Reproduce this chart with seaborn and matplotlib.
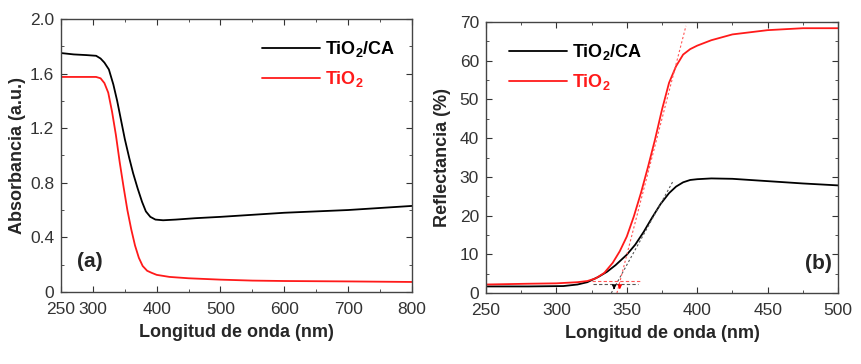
import pandas as pd
import matplotlib.pyplot as plt
from matplotlib import font_manager
from matplotlib.ticker import AutoMinorLocator, MultipleLocator
import seaborn as sns

# (a) absorbance spectra
abs_wl_ca = [250, 270, 290, 305, 312, 318, 325, 332, 338, 344, 350, 357, 363, 370, 377,
             383, 390, 398, 410, 430, 460, 500, 550, 600, 650, 700, 750, 800]
abs_ca = [1.75, 1.74, 1.735, 1.73, 1.71, 1.68, 1.63, 1.52, 1.40, 1.26, 1.12, 0.98, 0.87, 0.76,
          0.66, 0.59, 0.55, 0.53, 0.525, 0.53, 0.54, 0.55, 0.565, 0.58, 0.59, 0.60, 0.615, 0.63]
abs_wl_ti = [250, 280, 305, 312, 318, 324, 330, 336, 342, 348, 354, 360, 366, 372, 378,
             385, 392, 400, 420, 450, 500, 550, 600, 700, 800]
abs_ti = [1.575, 1.575, 1.575, 1.565, 1.53, 1.46, 1.32, 1.15, 0.95, 0.77, 0.60, 0.46, 0.34,
          0.25, 0.19, 0.155, 0.14, 0.125, 0.11, 0.10, 0.09, 0.083, 0.08, 0.077, 0.073]
abs_yticks = [0, 0.4, 0.8, 1.2, 1.6, 2.0]
abs_ylabels = ["0", "0.4", "0.8", "1.2", "1.6", "2.0"]
abs_xticks = [250, 300, 400, 500, 600, 700, 800]

# (b) reflectance spectra
ref_wl_ca = [250, 280, 305, 315, 322, 330, 336, 342, 350, 356, 362, 368, 374, 380, 385,
             390, 395, 400, 410, 425, 450, 475, 500]
ref_ca = [1.7, 1.7, 1.8, 2.2, 2.8, 4.2, 5.5, 7.2, 9.9, 12.5, 15.8, 19.5, 23.0, 25.8, 27.5,
          28.6, 29.2, 29.4, 29.6, 29.5, 28.9, 28.3, 27.8]
ref_wl_ti = [250, 280, 300, 315, 322, 328, 334, 340, 345, 350, 355, 360, 365, 370, 375,
             380, 385, 390, 395, 400, 410, 425, 450, 475, 500]
ref_ti = [2.2, 2.4, 2.5, 2.8, 3.1, 3.8, 5.2, 7.8, 10.8, 14.6, 19.8, 25.8, 32.5, 39.6, 47.4,
          54.3, 58.6, 61.6, 63.0, 63.9, 65.3, 66.8, 67.9, 68.4, 68.4]

# band-edge construction lines (b)
tan_ca_x = [339, 383]
tan_ca_y = [0, 29]
tan_ti_x = [343, 392]
tan_ti_y = [0, 69]
base_ca_x = [326, 358]
base_ca_y = [2.3, 2.3]
base_ti_x = [325, 361]
base_ti_y = [3.0, 3.0]
edge_ca = 341
edge_ti = 345

# narrow font if there is one
fam = "Liberation Sans"
for f in ["Liberation Sans Narrow", "Arial Narrow"]:
    try:
        font_manager.findfont(f, fallback_to_default=False)
        fam = f
        break
    except ValueError:
        pass
narrow = fam != "Liberation Sans"
tsize = 15 if narrow else 12.5

sns.set_style("ticks")
plt.rcParams['font.family'] = [fam, 'DejaVu Sans']
plt.rcParams['mathtext.fontset'] = 'custom'
plt.rcParams['mathtext.rm'] = fam
plt.rcParams['mathtext.bf'] = fam + ':bold'

fig = plt.figure(figsize=(8.62, 3.64), dpi=100)
ax1 = fig.add_axes([0.0708, 0.198, 0.407, 0.75])
ax2 = fig.add_axes([0.5638, 0.195, 0.4084, 0.7445])

lab_ca = r"TiO$_\mathbf{2}$/CA"
lab_ti = r"TiO$_\mathbf{2}$"

sns.lineplot(x=abs_wl_ca, y=abs_ca, ax=ax1, color="black", lw=1.3, label=lab_ca)
sns.lineplot(x=abs_wl_ti, y=abs_ti, ax=ax1, color="#ff1a1a", lw=1.3, label=lab_ti)

sns.lineplot(x=ref_wl_ca, y=ref_ca, ax=ax2, color="black", lw=1.3, label=lab_ca)
sns.lineplot(x=ref_wl_ti, y=ref_ti, ax=ax2, color="#ff1a1a", lw=1.3, label=lab_ti)

# dashed helper lines
ax2.plot(tan_ca_x, tan_ca_y, ls=(0, (2, 2)), color="#555555", lw=0.8)
ax2.plot(tan_ti_x, tan_ti_y, ls=(0, (2, 2)), color="#ff5555", lw=0.8)
ax2.plot(base_ca_x, base_ca_y, ls=(0, (3, 2)), color="#555555", lw=0.8)
ax2.plot(base_ti_x, base_ti_y, ls=(0, (3, 2)), color="#ff5555", lw=0.8)
ax2.annotate("", xy=(edge_ca, 0.2), xytext=(edge_ca, 2.2),
             arrowprops=dict(arrowstyle="-|>", color="black", lw=0.8, mutation_scale=6))
ax2.annotate("", xy=(edge_ti, 0.2), xytext=(edge_ti, 2.9),
             arrowprops=dict(arrowstyle="-|>", color="red", lw=0.8, mutation_scale=6))

ax1.set_xlim(250, 800)
ax1.set_ylim(0, 2.0)
ax1.set_xticks(abs_xticks)
ax1.xaxis.set_minor_locator(MultipleLocator(50))
ax1.set_yticks(abs_yticks, abs_ylabels)
ax1.yaxis.set_minor_locator(MultipleLocator(0.2))
ax1.set_xlabel("Longitud de onda (nm)", fontsize=13, fontweight="bold", labelpad=5)
ax1.set_ylabel("Absorbancia (a.u.)", fontsize=13, fontweight="bold", labelpad=3)
ax1.text(0.045, 0.09, "(a)", transform=ax1.transAxes, fontsize=15, fontweight="bold")

ax2.set_xlim(250, 500)
ax2.set_ylim(0, 70)
ax2.xaxis.set_major_locator(MultipleLocator(50))
ax2.xaxis.set_minor_locator(AutoMinorLocator(2))
ax2.yaxis.set_major_locator(MultipleLocator(10))
ax2.yaxis.set_minor_locator(AutoMinorLocator(2))
ax2.set_xlabel("Longitud de onda (nm)", fontsize=13, fontweight="bold", labelpad=5)
ax2.set_ylabel("Reflectancia (%)", fontsize=13, fontweight="bold", labelpad=6)
ax2.text(0.905, 0.09, "(b)", transform=ax2.transAxes, fontsize=15, fontweight="bold")

for ax in (ax1, ax2):
    ax.tick_params(which="both", direction="in", top=True, right=True, colors="#333333",
                   labelcolor="#333333")
    ax.tick_params(which="major", length=4, labelsize=tsize)
    ax.tick_params(axis="x", which="major", pad=7)
    ax.tick_params(axis="y", which="major", pad=5)
    ax.tick_params(which="minor", length=2)
    for s in ax.spines.values():
        s.set_color("#444444")
        s.set_linewidth(1.0)

leg1 = ax1.legend(loc="upper right", bbox_to_anchor=(1.0, 0.985), frameon=False,
                  handlelength=3.2, handletextpad=0.3, labelspacing=0.55,
                  prop={"size": 13, "weight": "bold"})
leg2 = ax2.legend(loc="upper left", bbox_to_anchor=(0.02, 0.985), frameon=False,
                  handlelength=3.2, handletextpad=0.3, labelspacing=0.55,
                  prop={"size": 13, "weight": "bold"})
for leg in (leg1, leg2):
    for txt, col in zip(leg.get_texts(), ["black", "#ff1a1a"]):
        txt.set_color(col)

fig.savefig("out.png", dpi=100)
